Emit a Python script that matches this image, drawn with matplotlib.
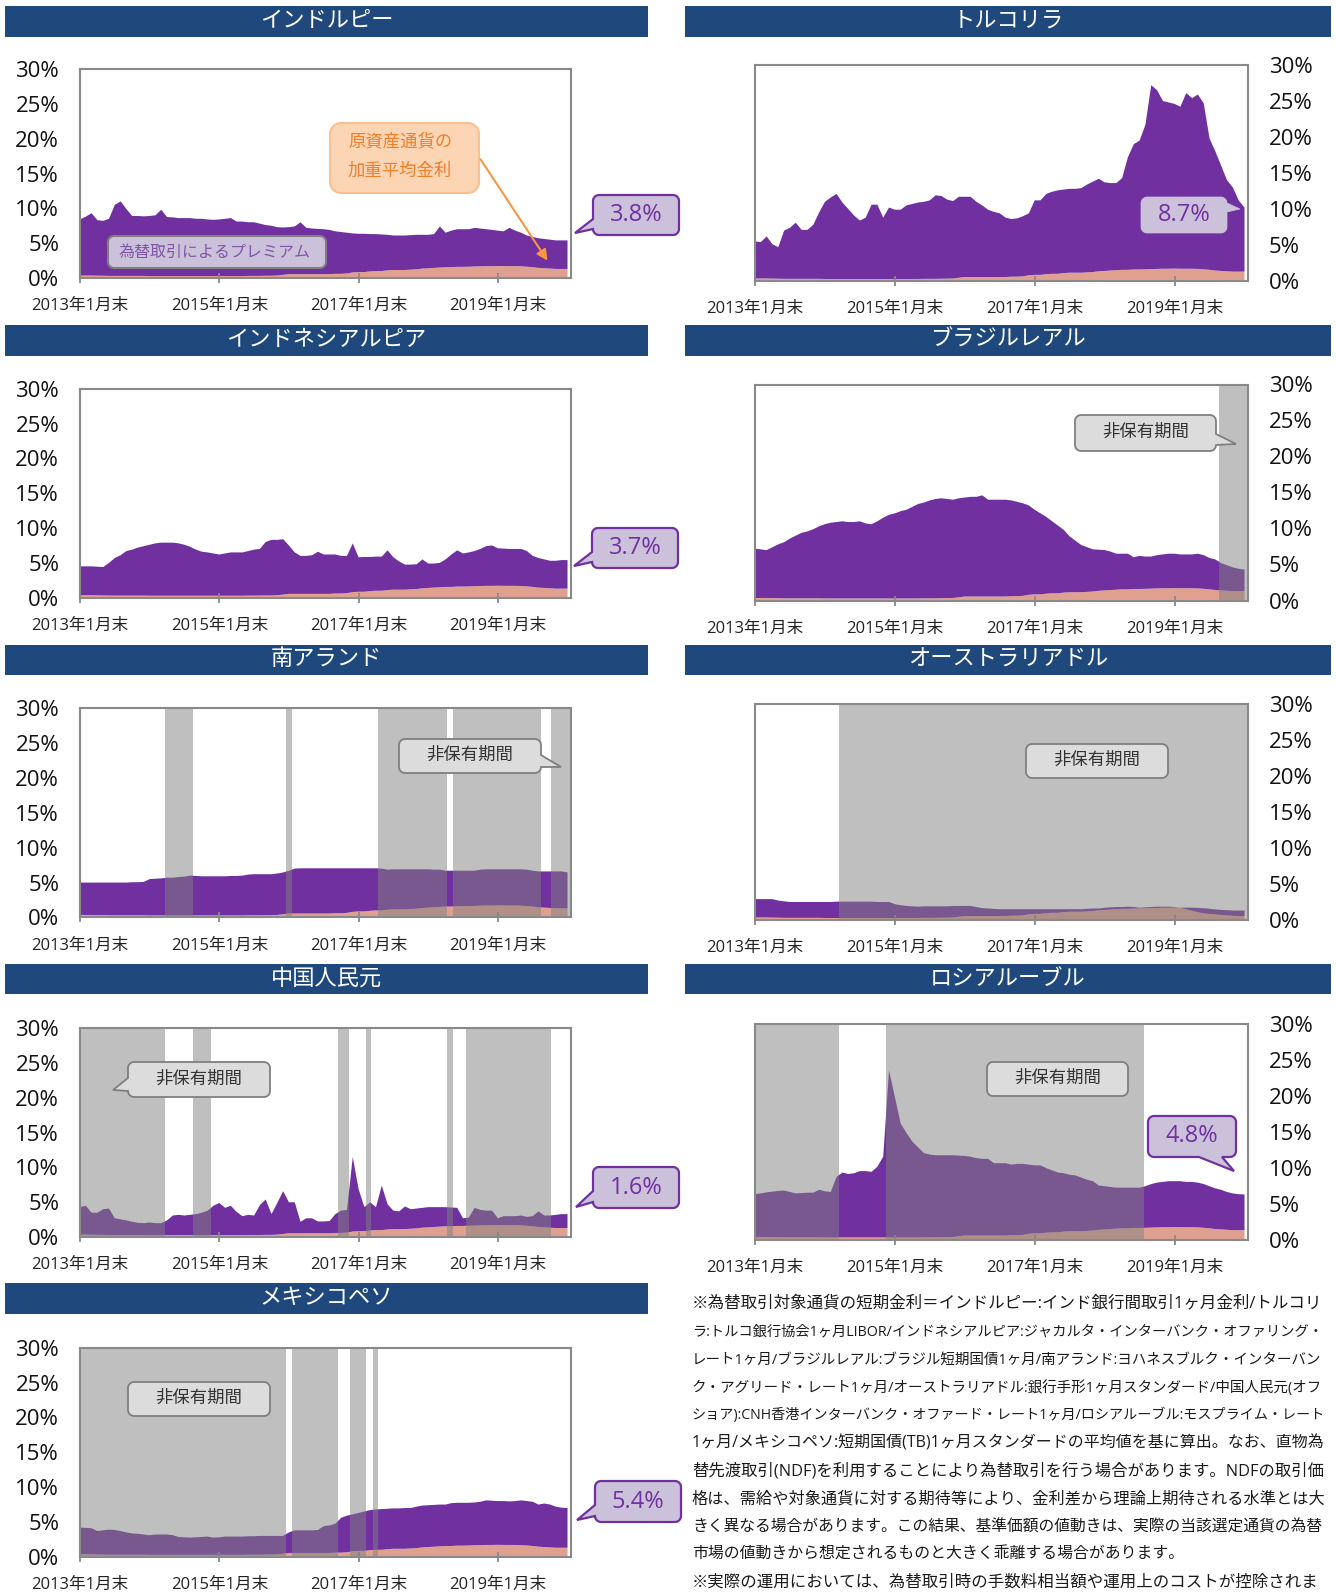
import numpy as np
import matplotlib
matplotlib.use("Agg")
import matplotlib.pyplot as plt
from matplotlib.path import Path
from matplotlib.patches import PathPatch, Rectangle, FancyArrowPatch

plt.rcParams['font.family'] = ['Open Sans', 'Noto Sans CJK JP', 'DejaVu Sans']

# ---------------- data ----------------
months = np.arange(85)  # month-end, 2013-01 ... 2020-01
tick_pos = [0, 24, 48, 72]
tick_labels = ["2013年1月末", "2015年1月末", "2017年1月末", "2019年1月末"]
y_ticks = [0, 5, 10, 15, 20, 25, 30]
y_tick_labels = ["0%", "5%", "10%", "15%", "20%", "25%", "30%"]

# weighted average interest rate of the underlying asset currency (%)
base_rate = [0.35, 0.35, 0.35, 0.33, 0.32, 0.30, 0.30, 0.30, 0.30, 0.30, 0.30, 0.30,
             0.28, 0.28, 0.28, 0.28, 0.28, 0.28, 0.28, 0.28, 0.28, 0.28, 0.28, 0.28,
             0.28, 0.28, 0.28, 0.28, 0.28, 0.30, 0.30, 0.30, 0.32, 0.32, 0.35, 0.45,
             0.55, 0.55, 0.55, 0.55, 0.55, 0.55, 0.55, 0.55, 0.60, 0.60, 0.65, 0.80,
             0.85, 0.85, 0.95, 1.00, 1.00, 1.10, 1.15, 1.15, 1.15, 1.20, 1.25, 1.35,
             1.40, 1.45, 1.50, 1.55, 1.55, 1.60, 1.60, 1.62, 1.65, 1.68, 1.70, 1.70,
             1.72, 1.70, 1.70, 1.70, 1.68, 1.62, 1.55, 1.45, 1.40, 1.35, 1.30, 1.30,
             1.30]

# total (base rate + FX premium) top edge of each panel (%)
inr_total = [8.4, 8.8, 9.3, 8.3, 8.2, 8.5, 10.5, 11.0, 9.9, 8.9, 8.9, 8.85,
             8.9, 9.0, 9.8, 8.75, 8.7, 8.6, 8.6, 8.6, 8.5, 8.5, 8.4, 8.35,
             8.4, 8.5, 8.6, 8.1, 8.1, 8.0, 8.0, 7.8, 7.6, 7.5, 7.3, 7.25,
             7.3, 7.4, 8.0, 7.2, 7.1, 7.05, 7.0, 6.9, 6.7, 6.6, 6.5, 6.4,
             6.35, 6.35, 6.3, 6.3, 6.25, 6.2, 6.1, 6.1, 6.1, 6.15, 6.2, 6.2,
             6.2, 6.3, 7.4, 6.5, 6.8, 7.0, 7.0, 7.0, 7.2, 7.1, 7.0, 6.9,
             6.8, 6.7, 7.2, 6.8, 6.5, 6.1, 5.9, 5.7, 5.6, 5.5, 5.4, 5.4,
             5.4]
try_total = [5.5, 5.4, 6.2, 5.1, 4.7, 7.0, 7.4, 8.1, 7.1, 7.1, 7.8, 9.5,
             11.0, 11.6, 12.1, 10.9, 10.0, 9.1, 8.4, 8.8, 10.6, 10.6, 8.8, 10.2,
             9.9, 9.9, 10.5, 10.7, 10.9, 11.0, 11.2, 11.9, 11.8, 11.3, 11.1, 11.7,
             11.7, 11.7, 11.0, 10.5, 9.9, 9.6, 9.4, 8.8, 8.6, 8.7, 9.0, 9.4,
             11.2, 11.2, 12.1, 12.4, 12.6, 12.7, 12.8, 12.8, 12.9, 13.4, 13.8, 14.2,
             13.7, 13.6, 13.6, 14.3, 17.2, 19.0, 19.5, 21.7, 27.2, 26.5, 25.0, 24.8,
             24.6, 24.2, 26.1, 25.4, 25.9, 24.7, 19.8, 18.0, 16.0, 14.0, 13.0, 11.2,
             10.2]
idr_total = [4.5, 4.5, 4.5, 4.45, 4.4, 5.0, 5.7, 6.1, 6.7, 6.9, 7.2, 7.4,
             7.6, 7.8, 7.9, 7.9, 7.9, 7.8, 7.6, 7.3, 6.9, 6.6, 6.5, 6.35,
             6.2, 6.35, 6.5, 6.5, 6.5, 6.7, 6.9, 7.0, 8.0, 8.3, 8.3, 8.4,
             7.5, 6.5, 6.0, 6.0, 6.1, 6.6, 6.2, 6.2, 6.2, 6.0, 6.0, 7.8,
             5.8, 5.85, 5.85, 5.9, 5.9, 6.8, 5.8, 5.2, 4.75, 4.75, 4.8, 5.5,
             4.9, 4.9, 5.0, 5.5, 6.2, 6.8, 6.35, 6.5, 6.7, 7.0, 7.4, 7.5,
             7.1, 7.05, 7.0, 7.0, 7.0, 6.7, 6.0, 5.7, 5.5, 5.3, 5.3, 5.4,
             5.4]
brl_total = [7.2, 7.1, 7.0, 7.4, 7.8, 8.1, 8.6, 9.0, 9.4, 9.6, 9.9, 10.3,
             10.6, 10.8, 10.9, 11.0, 10.9, 10.9, 11.0, 10.7, 10.6, 11.0, 11.5, 11.9,
             12.1, 12.4, 12.6, 13.0, 13.4, 13.6, 13.9, 14.1, 14.2, 14.1, 14.0, 14.2,
             14.3, 14.4, 14.4, 14.6, 14.0, 14.0, 14.0, 14.0, 13.9, 13.7, 13.5, 13.2,
             12.6, 12.1, 11.6, 11.0, 10.4, 9.8, 8.9, 8.3, 7.7, 7.4, 7.1, 7.05,
             7.0, 6.8, 6.5, 6.5, 6.5, 6.0, 6.2, 6.1, 6.1, 6.3, 6.4, 6.5,
             6.5, 6.4, 6.4, 6.4, 6.5, 6.3, 5.9, 5.7, 5.2, 4.9, 4.6, 4.4,
             4.3]
zar_total = [5.0, 5.0, 5.0, 5.0, 5.0, 5.0, 5.0, 5.0, 5.0, 5.05, 5.05, 5.1,
             5.5, 5.55, 5.6, 5.7, 5.7, 5.8, 5.85, 6.0, 5.95, 5.9, 5.9, 5.9,
             5.9, 5.9, 5.95, 5.95, 6.0, 6.15, 6.2, 6.2, 6.2, 6.2, 6.3, 6.45,
             6.7, 7.0, 7.05, 7.05, 7.05, 7.05, 7.05, 7.05, 7.05, 7.05, 7.05, 7.05,
             7.05, 7.05, 7.05, 7.05, 7.0, 6.85, 6.9, 6.9, 6.9, 6.9, 6.9, 6.9,
             6.9, 6.85, 6.85, 6.7, 6.7, 6.7, 6.7, 6.7, 6.7, 6.85, 6.9, 6.9,
             6.9, 6.9, 6.9, 6.9, 6.9, 6.85, 6.7, 6.6, 6.6, 6.6, 6.6, 6.6,
             6.45]
aud_total = [2.9, 2.9, 2.9, 2.9, 2.7, 2.6, 2.5, 2.5, 2.5, 2.5, 2.5, 2.5,
             2.5, 2.5, 2.55, 2.55, 2.55, 2.55, 2.55, 2.55, 2.55, 2.5, 2.5, 2.5,
             2.2, 2.05, 1.95, 1.9, 1.85, 1.9, 1.9, 1.9, 1.9, 1.9, 1.95, 1.95,
             1.95, 1.95, 1.8, 1.65, 1.6, 1.55, 1.5, 1.5, 1.5, 1.5, 1.5, 1.5,
             1.5, 1.5, 1.5, 1.5, 1.5, 1.5, 1.5, 1.5, 1.5, 1.55, 1.6, 1.6,
             1.7, 1.75, 1.8, 1.8, 1.85, 1.8, 1.7, 1.75, 1.8, 1.85, 1.85, 1.85,
             1.8, 1.7, 1.5, 1.3, 1.1, 0.95, 0.85, 0.8, 0.7, 0.65, 0.6, 0.55,
             0.55]
cny_total = [4.3, 4.5, 3.5, 3.5, 4.0, 4.1, 2.7, 2.55, 2.4, 2.2, 2.05, 2.0,
             2.1, 2.0, 2.0, 2.4, 3.1, 3.2, 3.1, 3.2, 3.3, 3.5, 3.8, 4.5,
             4.9, 4.2, 4.5, 3.6, 3.0, 3.2, 3.1, 4.6, 5.4, 3.3, 4.9, 6.6,
             5.0, 5.0, 2.2, 2.7, 2.7, 2.25, 2.25, 2.3, 3.3, 3.8, 3.9, 11.5,
             6.9, 4.3, 5.0, 4.3, 7.4, 4.7, 3.8, 3.7, 4.4, 4.0, 4.1, 4.2,
             4.3, 4.3, 4.3, 4.3, 4.25, 4.2, 2.7, 2.8, 4.2, 3.9, 3.8, 3.8,
             2.7, 3.0, 3.0, 3.0, 3.1, 2.9, 3.0, 3.7, 3.1, 3.1, 3.2, 3.3,
             3.3]
rub_total = [6.3, 6.4, 6.55, 6.65, 6.75, 6.8, 6.6, 6.4, 6.45, 6.5, 6.5, 6.9,
             6.7, 6.6, 8.7, 9.3, 9.1, 9.2, 9.5, 9.5, 9.4, 10.1, 11.5, 23.5,
             19.8, 16.1, 14.8, 13.6, 12.8, 12.0, 11.8, 11.7, 11.7, 11.7, 11.7, 11.65,
             11.6, 11.5, 11.3, 11.2, 11.2, 10.6, 10.6, 10.6, 10.4, 10.5, 10.5, 10.4,
             10.3, 10.3, 9.9, 9.6, 9.3, 9.2, 9.0, 8.9, 8.6, 8.3, 8.1, 7.5,
             7.4, 7.3, 7.2, 7.2, 7.2, 7.2, 7.2, 7.4, 7.7, 7.9, 8.0, 8.1,
             8.1, 8.1, 8.0, 8.0, 7.9, 7.7, 7.4, 7.1, 6.9, 6.6, 6.4, 6.3,
             6.25]
mxn_total = [4.2, 4.15, 4.1, 3.7, 3.8, 3.9, 3.85, 3.7, 3.5, 3.35, 3.3, 3.2,
             3.1, 3.2, 3.2, 3.2, 3.1, 2.85, 2.8, 2.75, 2.8, 2.85, 2.9, 2.75,
             2.8, 2.9, 2.9, 2.9, 2.9, 2.95, 2.95, 3.0, 3.0, 3.0, 3.0, 3.0,
             3.5, 3.8, 3.8, 3.8, 3.8, 3.85, 4.4, 4.5, 4.75, 5.6, 5.9, 6.1,
             6.3, 6.5, 6.7, 6.8, 6.85, 6.9, 6.95, 6.95, 7.0, 7.0, 7.2, 7.35,
             7.4, 7.45, 7.5, 7.5, 7.7, 7.75, 7.75, 7.75, 7.8, 7.9, 8.1, 8.05,
             8.0, 8.0, 7.95, 8.0, 8.1, 8.0, 7.9, 7.5, 7.65, 7.5, 7.2, 7.05,
             7.0]

# non-holding periods (month positions)
brl_off = [(79.7, 84.6)]
zar_off = [(14.6, 19.4), (35.5, 36.5), (51.3, 63.3), (64.3, 79.4), (81.1, 84.6)]
aud_off = [(14.4, 84.6)]
cny_off = [(0, 14.6), (19.4, 22.5), (44.5, 46.4), (49.3, 50.2), (63.3, 64.3), (66.5, 81.1)]
rub_off = [(0, 14.5), (22.4, 66.7)]
mxn_off = [(0, 35.5), (36.5, 44.4), (46.5, 49.3), (50.4, 51.3)]

titles = ["インドルピー", "トルコリラ", "インドネシアルピア", "ブラジルレアル", "南アランド",
          "オーストラリアドル", "中国人民元", "ロシアルーブル", "メキシコペソ"]
totals = [inr_total, try_total, idr_total, brl_total, zar_total,
          aud_total, cny_total, rub_total, mxn_total]
offs = [[], [], [], brl_off, zar_off, aud_off, cny_off, rub_off, mxn_off]
premium_labels = ["3.8%", "8.7%", "3.7%", "1.6%", "4.8%", "5.4%"]

note_lines = [
    "※為替取引対象通貨の短期金利＝インドルピー:インド銀行間取引1ヶ月金利/トルコリ",
    "ラ:トルコ銀行協会1ヶ月LIBOR/インドネシアルピア:ジャカルタ・インターバンク・オファリング・",
    "レート1ヶ月/ブラジルレアル:ブラジル短期国債1ヶ月/南アランド:ヨハネスブルク・インターバン",
    "ク・アグリード・レート1ヶ月/オーストラリアドル:銀行手形1ヶ月スタンダード/中国人民元(オフ",
    "ショア):CNH香港インターバンク・オファード・レート1ヶ月/ロシアルーブル:モスプライム・レート",
    "1ヶ月/メキシコペソ:短期国債(TB)1ヶ月スタンダードの平均値を基に算出。なお、直物為",
    "替先渡取引(NDF)を利用することにより為替取引を行う場合があります。NDFの取引価",
    "格は、需給や対象通貨に対する期待等により、金利差から理論上期待される水準とは大",
    "きく異なる場合があります。この結果、基準価額の値動きは、実際の当該選定通貨の為替",
    "市場の値動きから想定されるものと大きく乖離する場合があります。",
    "※実際の運用においては、為替取引時の手数料相当額や運用上のコストが控除されま",
]

# ---------------- style ----------------
PURPLE = "#7030A0"
SALMON = "#E0A090"
TITLE_BG = "#1F497D"
FRAME = "#898989"
CALL_FC = "#CCC1DA"
OFF_FC = "#DCDCDC"

W, H = 1336, 1594
fig = plt.figure(figsize=(W / 100, H / 100), dpi=100)
fig.patch.set_facecolor("white")


def fx(x):
    return x / W


def fy(y):
    return 1 - y / H


def rounded_path(x0, y0, x1, y1, r, tail=None):
    """Rounded rectangle in pixel coords (y down) with optional speech tail."""
    pts = []

    def arc(cx, cy, a0, a1):
        for t in np.linspace(a0, a1, 8):
            pts.append((cx + r * np.cos(np.radians(t)), cy + r * np.sin(np.radians(t))))

    side = tail[0] if tail else None
    arc(x0 + r, y0 + r, 180, 270)
    arc(x1 - r, y0 + r, 270, 360)
    if side == "right":
        _, a, b, tx, ty = tail
        pts += [(x1, a), (tx, ty), (x1, b)]
    arc(x1 - r, y1 - r, 0, 90)
    if side == "bottom":
        _, a, b, tx, ty = tail
        pts += [(b, y1), (tx, ty), (a, y1)]
    arc(x0 + r, y1 - r, 90, 180)
    if side == "left":
        _, a, b, tx, ty = tail
        pts += [(x0, b), (tx, ty), (x0, a)]
    pts.append(pts[0])
    verts = [(fx(px), fy(py)) for px, py in pts]
    codes = [Path.MOVETO] + [Path.LINETO] * (len(verts) - 2) + [Path.CLOSEPOLY]
    return Path(verts, codes)


def callout(box, tail, fc, ec, lw, r=6, z=5):
    p = PathPatch(rounded_path(*box, r, tail), transform=fig.transFigure,
                  facecolor=fc, edgecolor=ec, lw=lw, zorder=z)
    fig.patches.append(p)


# ---------------- panels ----------------
for i in range(9):
    row, col = divmod(i, 2)
    # title bar
    if col == 0:
        bx0, bx1 = 5, 648
    else:
        bx0, bx1 = 685, 1331
    by0 = 6 + 319.3 * row
    by1 = by0 + 30.5
    fig.patches.append(Rectangle((fx(bx0), fy(by1)), fx(bx1) - fx(bx0), fy(by0) - fy(by1),
                                 transform=fig.transFigure, facecolor=TITLE_BG,
                                 edgecolor="none", zorder=1))
    fig.text(fx((bx0 + bx1) / 2), fy((by0 + by1) / 2), titles[i], color="white",
             fontsize=16, ha="center", va="center", zorder=2)

    # axes
    if col == 0:
        ax0, ax1 = 80, 571
        ay0 = 69 + 319.7 * row
        ay1 = ay0 + 209
    else:
        ax0, ax1 = 755, 1248
        ay0 = 65 + 319.5 * row
        ay1 = ay0 + 216
    ax = fig.add_axes([fx(ax0), fy(ay1), fx(ax1) - fx(ax0), fy(ay0) - fy(ay1)])
    total = np.array(totals[i])
    base = np.array(base_rate)
    prem = total - base
    ax.stackplot(months, base, prem, colors=[SALMON, PURPLE], lw=0, zorder=1)
    for a, b in offs[i]:
        ax.axvspan(a, b, color="#808080", alpha=0.5, lw=0, zorder=3)
    ax.set_xlim(0, 84.6)
    ax.set_ylim(0, 30)
    ax.set_xticks(tick_pos)
    ax.set_xticklabels(tick_labels)
    ax.set_yticks(y_ticks)
    ax.set_yticklabels(y_tick_labels)
    ax.tick_params(axis="x", direction="inout", length=7, width=1.3, colors=FRAME,
                   labelcolor="#222222", labelsize=12, pad=11)
    ax.tick_params(axis="y", length=0, labelsize=16, labelcolor="#111111", pad=15)
    if col == 1:
        ax.yaxis.tick_right()
        ax.tick_params(axis="y", length=0, pad=15)
    for s in ax.spines.values():
        s.set_color(FRAME)
        s.set_linewidth(1.5)
        s.set_zorder(4)

# ---------------- value callouts ----------------
val_boxes = [
    ((593, 195, 679, 235), ("left", 219, 229, 575, 233), True),      # India
    ((1141, 197, 1227, 233), ("right", 203, 212, 1240, 209), False),  # Turkey
    ((592, 528, 678, 568), ("left", 552, 562, 574, 566), True),       # Indonesia
    ((593, 1167, 679, 1208), ("left", 1191, 1202, 576, 1207), True),  # China
    ((1148, 1116, 1236, 1157), ("bottom", 1199, 1222, 1234, 1171), True),  # Russia
    ((595, 1481, 681, 1522), ("left", 1505, 1516, 577, 1520), True),  # Mexico
]
for (box, tail, border), lab in zip(val_boxes, premium_labels):
    callout(box, tail, CALL_FC, PURPLE if border else CALL_FC, 1.6 if border else 0.5)
    fig.text(fx((box[0] + box[2]) / 2), fy((box[1] + box[3]) / 2), lab, color=PURPLE,
             fontsize=17, ha="center", va="center", zorder=6)

# ---------------- non-holding period callouts ----------------
off_boxes = [
    ((1075, 415, 1216, 451), ("right", 434, 445, 1236, 444)),   # Brazil
    ((399, 739, 541, 773), ("right", 755, 767, 561, 767)),      # South Africa
    ((1026, 744, 1168, 778), None),                             # Australia
    ((128, 1062, 270, 1097), ("left", 1078, 1091, 113, 1090)),  # China
    ((987, 1062, 1128, 1096), None),                            # Russia
    ((128, 1382, 270, 1416), None),                             # Mexico
]
for box, tail in off_boxes:
    callout(box, tail, OFF_FC, "#7F7F7F", 1.3)
    fig.text(fx((box[0] + box[2]) / 2), fy((box[1] + box[3]) / 2), "非保有期間",
             color="#333333", fontsize=12.5, ha="center", va="center", zorder=6)

# ---------------- India legend annotations ----------------
callout((330, 123, 479, 193), None, "#FCD5B5", "#FAC090", 1.5, r=11)
fig.text(fx(400), fy(142), "原資産通貨の", color="#F07F2A", fontsize=12.5,
         ha="center", va="center", zorder=6)
fig.text(fx(400), fy(172), "加重平均金利", color="#F07F2A", fontsize=12.5,
         ha="center", va="center", zorder=6)
arr = FancyArrowPatch((fx(479), fy(157)), (fx(549), fy(263)), transform=fig.transFigure,
                      arrowstyle="-|>", mutation_scale=16, color="#F79646", lw=1.5, zorder=6)
fig.patches.append(arr)

callout((108, 236, 326, 268), None, CALL_FC, "#7F7F7F", 1.5, r=6)
fig.text(fx(215), fy(253), "為替取引によるプレミアム", color="#7F56A8", fontsize=11.5,
         ha="center", va="center", zorder=6)

# ---------------- note text ----------------
renderer = fig.canvas.get_renderer()
targets = [630, 630, 630, 630, 630, 630, 630, 630, 630, None, 624]
texts, sizes = [], []
for k, line in enumerate(note_lines):
    t = fig.text(fx(692), fy(1304 + 27.9 * k), line, fontsize=12, ha="left",
                 va="center", color="#1a1a1a")
    texts.append(t)
    if targets[k]:
        wpx = t.get_window_extent(renderer).width
        fs = min(12.5, 12 * targets[k] / wpx)
        t.set_fontsize(fs)
        sizes.append(fs)
texts[9].set_fontsize(float(np.median(sizes)))

fig.savefig("out.png", dpi=100, facecolor="white")
